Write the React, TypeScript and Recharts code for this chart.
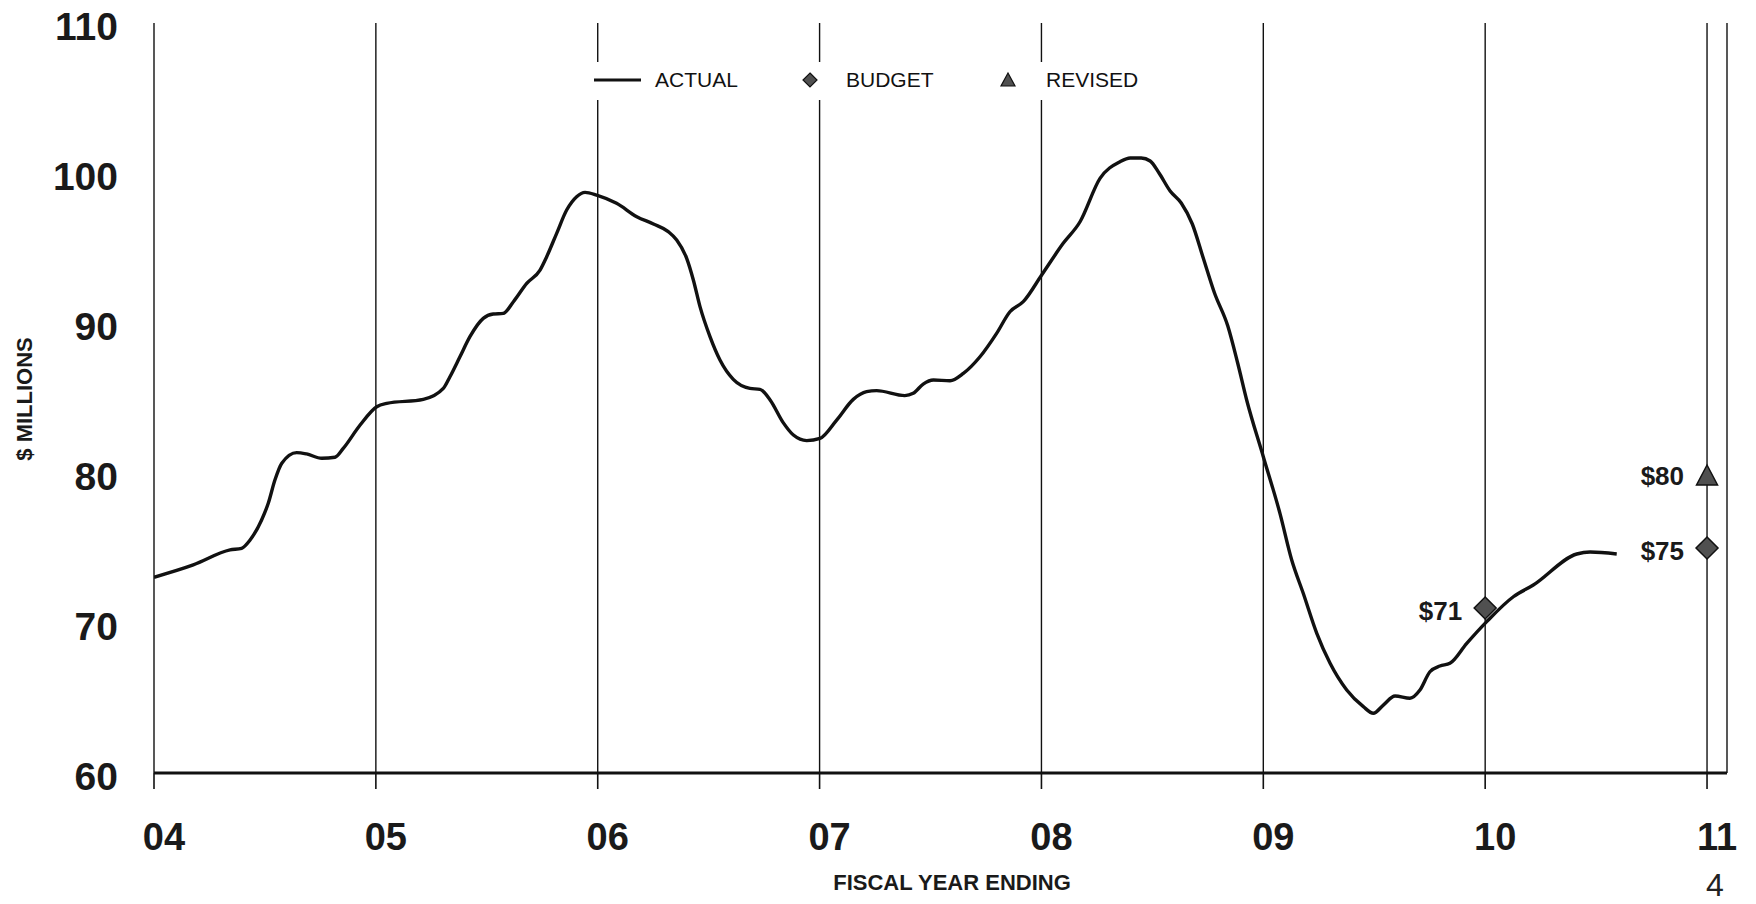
import React from 'react';
import { ComposedChart, Line, Scatter, XAxis, YAxis, CartesianGrid, Label } from 'recharts';

// ---- data ----
const actualYears = [
  4.0, 4.177, 4.343, 4.395, 4.433, 4.485, 4.515, 4.545, 4.576, 4.643, 4.688, 4.756, 4.816, 4.853, 4.929,
  5.004, 5.049, 5.214, 5.304, 5.334, 5.379, 5.424, 5.484, 5.529, 5.574, 5.62, 5.68, 5.74, 5.77, 5.815, 5.86, 5.905, 5.943, 5.995,
  6.085, 6.176, 6.251, 6.318, 6.356, 6.401, 6.431, 6.461, 6.506, 6.551, 6.611, 6.686, 6.731, 6.777, 6.836, 6.882, 6.942,
  7.002, 7.077, 7.152, 7.212, 7.257, 7.384, 7.422, 7.467, 7.513, 7.588, 7.648, 7.723, 7.798, 7.858, 7.918,
  8.001, 8.098, 8.174, 8.264, 8.354, 8.4, 8.45, 8.49, 8.53, 8.58, 8.63, 8.68, 8.73, 8.78, 8.84, 8.885, 8.925,
  9.0, 9.075, 9.128, 9.18, 9.241, 9.301, 9.376, 9.451, 9.496, 9.541, 9.594, 9.661, 9.706, 9.751, 9.796, 9.841, 9.917,
  10.007, 10.127, 10.217, 10.413, 10.473, 10.593,
];
const actualValues = [
  73.05, 73.87, 74.87, 74.98, 75.53, 76.87, 77.98, 79.53, 80.65, 81.36, 81.27, 80.98, 81.05, 81.64, 83.2,
  84.42, 84.64, 84.91, 85.64, 86.42, 87.75, 89.09, 90.31, 90.6, 90.64, 91.42, 92.64, 93.53, 94.42, 95.98, 97.53, 98.42, 98.71, 98.53,
  97.98, 97.09, 96.6, 96.09, 95.53, 94.31, 92.87, 91.09, 89.09, 87.53, 86.24, 85.64, 85.58, 84.87, 83.36, 82.53, 82.16,
  82.31, 83.53, 84.91, 85.42, 85.49, 85.16, 85.31, 85.93, 86.2, 86.15, 86.64, 87.75, 89.31, 90.75, 91.42,
  93.2, 95.31, 96.75, 99.64, 100.75, 101.0, 101.0, 100.8, 100.0, 98.8, 98.0, 96.6, 94.3, 92.0, 89.8, 87.3, 84.87,
  81.09, 77.31, 74.2, 71.98, 69.31, 67.31, 65.53, 64.42, 63.98, 64.53, 65.13, 64.98, 65.53, 66.75, 67.13, 67.31, 68.64,
  70.09, 71.75, 72.53, 74.6, 74.73, 74.6,
];
const budgetYears = [10, 11];
const budgetValues = [71, 75];
const revisedYears = [11];
const revisedValues = [80];

const xTickValues = [4, 5, 6, 7, 8, 9, 10, 11];
const xTickLabels = ['04', '05', '06', '07', '08', '09', '10', '11'];
const yTickValues = [60, 70, 80, 90, 100, 110];

const actualData = actualYears.map((x, i) => ({ x, y: actualValues[i] }));
const budgetData = budgetYears.map((x, i) => ({ x, y: budgetValues[i] }));
const revisedData = revisedYears.map((x, i) => ({ x, y: revisedValues[i] }));

const FONT = '"Liberation Sans", Arial, sans-serif';
const INK = '#111';

const XTick = (props: any) => {
  const { x, y, payload } = props;
  const idx = xTickValues.indexOf(payload.value);
  return (
    <text x={x + 10} y={y} dy="0.71em" textAnchor="middle" fontFamily={FONT} fontWeight="bold" fontSize={38} fill="#1a1a1a">
      {xTickLabels[idx]}
    </text>
  );
};

const YTick = (props: any) => {
  const { x, y, payload } = props;
  return (
    <text x={x} y={y + 3} dy="0.355em" textAnchor="end" fontFamily={FONT} fontWeight="bold" fontSize={39} fill="#1a1a1a">
      {payload.value}
    </text>
  );
};

const DiamondShape = (props: any) => {
  const { cx, cy, payload } = props;
  const r = 11;
  return (
    <g>
      <polygon points={`${cx},${cy - r} ${cx + r},${cy} ${cx},${cy + r} ${cx - r},${cy}`} fill="#505050" stroke={INK} strokeWidth={1.5} />
      <text x={cx - 23} y={cy + 3} dy="0.355em" textAnchor="end" fontFamily={FONT} fontWeight="bold" fontSize={26} fill="#1a1a1a">
        {`$${payload.y}`}
      </text>
    </g>
  );
};

const TriangleShape = (props: any) => {
  const { cx, cy, payload } = props;
  return (
    <g>
      <polygon points={`${cx},${cy - 8} ${cx + 10.5},${cy + 12} ${cx - 10.5},${cy + 12}`} fill="#505050" stroke={INK} strokeWidth={1.5} />
      <text x={cx - 23} y={cy + 3} dy="0.355em" textAnchor="end" fontFamily={FONT} fontWeight="bold" fontSize={26} fill="#1a1a1a">
        {`$${payload.y}`}
      </text>
    </g>
  );
};

const LegendBox = () => (
  <div
    style={{
      position: 'absolute',
      left: 588,
      top: 62,
      width: 560,
      height: 38,
      background: '#fff',
      fontFamily: FONT,
      fontSize: 21,
      color: '#111',
    }}
  >
    <svg width={560} height={38} style={{ position: 'absolute', left: 0, top: 0 }}>
      <line x1={6} x2={53} y1={18} y2={18} stroke={INK} strokeWidth={3.2} />
      <text x={67} y={18} dy="0.355em" fontFamily={FONT} fontSize={21} fill="#111">ACTUAL</text>
      <polygon points={`222,11 229,18 222,25 215,18`} fill="#505050" stroke={INK} strokeWidth={1.2} />
      <text x={258} y={18} dy="0.355em" fontFamily={FONT} fontSize={21} fill="#111">BUDGET</text>
      <polygon points={`420,11 427,24 413,24`} fill="#505050" stroke={INK} strokeWidth={1.2} />
      <text x={458} y={18} dy="0.355em" fontFamily={FONT} fontSize={21} fill="#111">REVISED</text>
    </svg>
  </div>
);

export default function App() {
  return (
    <div style={{ position: 'absolute', left: 0, top: 0, width: 1756, height: 904, background: '#fff', overflow: 'hidden' }}>
      <ComposedChart
        width={1756}
        height={904}
        margin={{ top: 23, right: 29, bottom: 71, left: 54 }}
      >
        <CartesianGrid horizontal={false} vertical={true} stroke={INK} strokeWidth={1.4} />
        <XAxis
          type="number"
          dataKey="x"
          domain={[4, 11.09]}
          ticks={xTickValues}
          interval={0}
          height={60}
          axisLine={{ stroke: INK, strokeWidth: 3 }}
          tickLine={{ stroke: INK, strokeWidth: 1.6 }}
          tickSize={16}
          tickMargin={34}
          tick={XTick}
          allowDataOverflow
        >
          <Label
            content={() => (
              <text x={952} y={882} dy="0.355em" textAnchor="middle" fontFamily={FONT} fontWeight="bold" fontSize={22} fill="#1a1a1a">
                FISCAL YEAR ENDING
              </text>
            )}
          />
        </XAxis>
        <YAxis
          type="number"
          domain={[60, 110]}
          ticks={yTickValues}
          interval={0}
          width={100}
          axisLine={false}
          tickLine={false}
          tickSize={0}
          tickMargin={36}
          tick={YTick}
        >
          <Label
            content={() => (
              <text
                x={24}
                y={399}
                dy="0.355em"
                textAnchor="middle"
                transform="rotate(-90 24 399)"
                fontFamily={FONT}
                fontWeight="bold"
                fontSize={22}
                fill="#1a1a1a"
              >
                $ MILLIONS
              </text>
            )}
          />
        </YAxis>
        <Line
          data={actualData}
          dataKey="y"
          type="monotone"
          stroke={INK}
          strokeWidth={3.4}
          dot={false}
          activeDot={false}
          isAnimationActive={false}
        />
        <Scatter data={budgetData} dataKey="y" shape={DiamondShape} isAnimationActive={false} />
        <Scatter data={revisedData} dataKey="y" shape={TriangleShape} isAnimationActive={false} />
      </ComposedChart>
      <LegendBox />
      <div
        style={{
          position: 'absolute',
          left: 1706,
          top: 870,
          fontFamily: FONT,
          fontSize: 32,
          lineHeight: '30px',
          height: 30,
          color: '#222',
        }}
      >
        4
      </div>
    </div>
  );
}
